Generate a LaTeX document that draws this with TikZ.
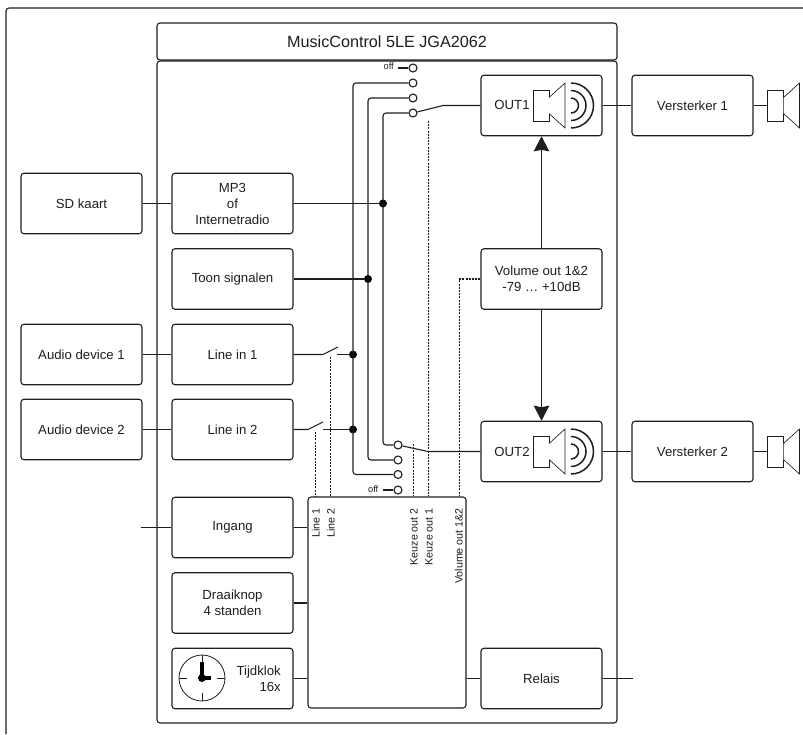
\documentclass[tikz,border=0pt]{standalone}
\usepackage{fontspec}
\setmainfont{Liberation Sans}
\usetikzlibrary{arrows.meta,calc}
\definecolor{ink}{HTML}{1E1E1E}
\tikzset{
  inkbase/.style={draw=ink,line width=1.1pt,text=ink},
  panel/.style={inkbase,rounded corners=3pt,inner sep=0pt,font=\fontsize{13.2}{16}\selectfont,align=center},
  unit/.style={panel,minimum width=121pt,minimum height=60.5pt},
  wire/.style={draw=ink,line width=1.1pt},
  roundwire/.style={wire,rounded corners=3pt},
  ctrlline/.style={draw=ink,line width=1.1pt,dash pattern=on 2pt off 1.2pt},
  powerline/.style={wire,-{Stealth[length=15pt,width=15.5pt,inset=1.5pt]}},
  jdot/.style={circle,fill=black,draw=none,minimum size=8pt,inner sep=0pt},
  port/.style={circle,fill=white,draw=ink,line width=1.1pt,minimum size=8pt,inner sep=0pt},
  smalltext/.style={font=\fontsize{9.3}{10}\selectfont,text=ink,inner sep=0pt},
  sideways/.style={font=\fontsize{10.7}{11}\selectfont,text=ink,inner sep=0pt,rotate=90,anchor=base east},
  spk/.pic={
    \draw[draw=ink,line width=.65pt,fill=white] (-8,-15.5) rectangle (8,15.5);
    \draw[draw=ink,line width=.65pt,fill=white] (8,-8) -- (24,-22.5) -- (24,22.5) -- (8,8);
  },
  waves/.pic={
    \draw[draw=ink,line width=1.5pt] (0,-22.5) arc (90:-90:22.5pt);
    \draw[draw=ink,line width=1.5pt] (0,-15) arc (90:-90:15pt);
    \draw[draw=ink,line width=1.5pt] (0,-7.5) arc (90:-90:7.5pt);
  }
}
\begin{document}
\begin{tikzpicture}[x=1pt,y=-1pt]
\useasboundingbox (0,0) rectangle (803,734);
% frames
\draw[roundwire] (6,734) -- (6,8) -- (803,8);
\node[panel,minimum width=460pt,minimum height=37pt,font=\fontsize{16.2}{18}\selectfont] (title) at (387,41.5) {MusicControl 5LE JGA2062};
\node[panel,minimum width=460pt,minimum height=662pt] (main) at (387,392) {};
% units
\node[unit] (sd) at (81.5,203.5) {SD kaart};
\node[unit] (mp3) at (232.5,203.5) {MP3\\of\\Internetradio};
\node[unit] (toon) at (232.5,279) {Toon signalen};
\node[unit] (dev1) at (81.5,354.5) {Audio device 1};
\node[unit] (in1) at (232.5,354.5) {Line in 1};
\node[unit] (dev2) at (81.5,429.5) {Audio device 2};
\node[unit] (in2) at (232.5,429.5) {Line in 2};
\node[unit] (ingang) at (232.5,527.5) {Ingang};
\node[unit] (knop) at (232.5,603) {Draaiknop\\4 standen};
\node[unit] (klok) at (232.5,678.5) {};
\node[panel,minimum width=158pt,minimum height=211pt] (ctrl) at (387,602.5) {};
\node[unit] (relais) at (541.5,678.5) {Relais};
\node[unit] (out1) at (541.5,105.5) {};
\node[unit] (amp1) at (692.5,105.5) {Versterker 1};
\node[unit] (vol) at (541.5,279) {Volume out 1\&2\\-79 … +10dB};
\node[unit] (out2) at (541.5,451.5) {};
\node[unit] (amp2) at (692.5,451.5) {Versterker 2};
\node[font=\fontsize{13.2}{16}\selectfont,text=ink,inner sep=0pt] (o1t) at (512,105) {OUT1};
\node[font=\fontsize{13.2}{16}\selectfont,text=ink,inner sep=0pt] (o2t) at (512,451.5) {OUT2};
\node[font=\fontsize{13.2}{16}\selectfont,text=ink,inner sep=0pt,align=right,anchor=east] (kt) at (281,678.5) {Tijdklok\\16x};
% speakers
\pic at (541,105.5) {spk};
\pic at (571,105.5) {waves};
\pic at (541,451.5) {spk};
\pic at (571,451.5) {waves};
\pic at (775.5,105.5) {spk};
\pic at (775.5,451.5) {spk};
% clock
\draw[draw=ink,line width=.8pt] (202,678) circle (23pt);
\draw[draw=ink,line width=.8pt] (179,678) -- (187,678) (217,678) -- (225,678) (202,655) -- (202,663) (202,693) -- (202,701);
\draw[draw=black,line width=3.4pt] (202,662) -- (202,678) -- (211,678);
\fill[black] (202,678) circle (4pt);
% connectors
\coordinate (ingin) at (141,527.5);
\coordinate (relout) at (633,678.5);
\coordinate (spk1in) at (768,105.5);
\coordinate (spk2in) at (768,451.5);
\draw[wire] (sd) -- (mp3);
\draw[wire] (dev1) -- (in1);
\draw[wire] (dev2) -- (in2);
\draw[wire] (ingin) -- (ingang);
\draw[wire] (ingang) -- (ingang -| ctrl.west);
\draw[wire] (knop) -- (knop -| ctrl.west);
\draw[wire] (klok) -- (klok -| ctrl.west);
\draw[wire] (klok -| ctrl.east) -- (relais.west);
\draw[wire] (relais) -- (relout);
\draw[wire] (out1) -- (amp1);
\draw[wire] (out2) -- (amp2);
\draw[wire] (amp1) -- (spk1in);
\draw[wire] (amp2) -- (spk2in);
\draw[powerline] (vol) -- (out1);
\draw[powerline] (vol) -- (out2);
% switch ports
\node[port] (t0) at (413,68) {};
\node[port] (t1) at (413,83) {};
\node[port] (t2) at (413,98) {};
\node[port] (t3) at (413,113) {};
\node[port] (b3) at (398,445) {};
\node[port] (b2) at (398,460) {};
\node[port] (b1) at (398,474.5) {};
\node[port] (b0) at (398,490) {};
\node[smalltext,anchor=east] (offt) at (394,66.5) {off};
\node[smalltext,anchor=east] (offb) at (378.5,489.5) {off};
\coordinate (offtl) at (398,68);
\coordinate (offbl) at (383,490);
\draw[wire] (offtl) -- (t0);
\draw[wire] (offbl) -- (b0);
% junctions
\node[jdot] (jm) at (383,203.5) {};
\node[jdot] (jt) at (368,279) {};
\node[jdot] (j1) at (353,354.5) {};
\node[jdot] (j2) at (353,429.5) {};
% buses
\draw[roundwire] (t1) -| (j1.center) -- (j2.center) |- (b1);
\draw[roundwire] (t2) -| (jt.center) |- (b2);
\draw[roundwire] (t3) -| (jm.center) |- (b3);
\draw[wire] (mp3) -- (jm);
\draw[wire] (toon) -- (jt);
% selector arms
\coordinate (k1) at (443,105.5);
\coordinate (k2) at (428,451.5);
\draw[wire] (t3) -- (k1) -- (out1.west);
\draw[wire] (b3) -- (k2) -- (out2.west);
% line-in switches
\coordinate (s1a) at (323,354.5);
\coordinate (s1b) at (338,347);
\coordinate (s1c) at (337,354.5);
\coordinate (s2a) at (308,429.5);
\coordinate (s2b) at (323,422);
\coordinate (s2c) at (323,429.5);
\draw[wire] (in1.east) -- (s1a) -- (s1b);
\draw[wire] (s1c) -- (j1);
\draw[wire] (in2.east) -- (s2a) -- (s2b);
\draw[wire] (s2c) -- (j2);
% control lines
\coordinate (c1) at (315.5,432);
\coordinate (c2) at (330.5,356.5);
\coordinate (c3) at (413.5,444);
\coordinate (c4) at (428.5,121);
\coordinate (c5) at (459.5,279);
\draw[ctrlline] (c1) -- (c1 |- ctrl.north);
\draw[ctrlline] (c2) -- (c2 |- ctrl.north);
\draw[ctrlline] (c3) -- (c3 |- ctrl.north);
\draw[ctrlline] (c4) -- (c4 |- ctrl.north);
\draw[ctrlline] (vol.west) -- (c5) -- (c5 |- ctrl.north);
% rotated labels
\node[sideways] (l1) at (319.5,508) {Line 1};
\node[sideways] (l2) at (334.5,508) {Line 2};
\node[sideways] (l3) at (417.5,508) {Keuze out 2};
\node[sideways] (l4) at (432.5,508) {Keuze out 1};
\node[sideways] (l5) at (462.5,508) {Volume out 1\&2};
\end{tikzpicture}
\end{document}
